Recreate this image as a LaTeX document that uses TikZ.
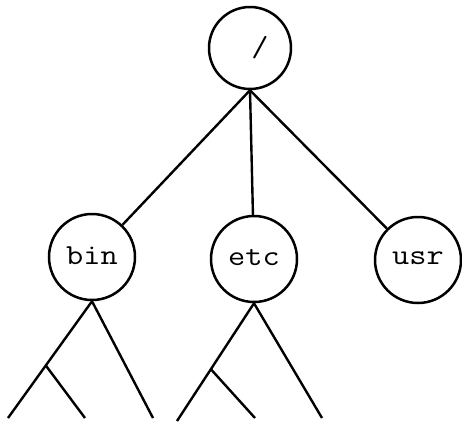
\documentclass[tikz,border=0pt]{standalone}
\usepackage{fontspec}
\usetikzlibrary{calc}
\newcommand{\dirlabel}[1]{\raisebox{3pt}{\scalebox{1.15}[1.0]{\ttfamily\fontsize{29}{31}\selectfont #1}}}
\begin{document}
\begin{tikzpicture}[x=1pt,y=-1pt,
  dirnode/.style={circle,draw,line width=2.5pt,inner sep=0pt,minimum size=86pt},
  edge/.style={line width=2.4pt}]
\useasboundingbox (0,0) rectangle (462,421);
\node[dirnode,minimum size=82pt] (root) at (250,48) {\kern20pt\dirlabel{/}};
\node[dirnode] (bin) at (92,257) {\dirlabel{bin}};
\node[dirnode] (etc) at (254,259) {\dirlabel{etc}};
\node[dirnode] (usr) at (418,260) {\dirlabel{usr}};
\draw[edge] (root.south) -- (bin);
\draw[edge] (root.south) -- (etc);
\draw[edge] (root.south) -- (usr);
\coordinate (bL) at (8,418);
\coordinate (bR) at (153,418);
\coordinate (bB) at (85,418);
\coordinate (bM) at ($(bin.south)!0.55!(bL)$);
\draw[edge] (bL) -- (bin.south) -- (bR);
\draw[edge] (bM) -- (bB);
\coordinate (eL) at (177,421);
\coordinate (eR) at (322,418);
\coordinate (eB) at (255,418);
\coordinate (eM) at ($(etc.south)!0.56!(eL)$);
\draw[edge] (eL) -- (etc.south) -- (eR);
\draw[edge] (eM) -- (eB);
\end{tikzpicture}
\end{document}
